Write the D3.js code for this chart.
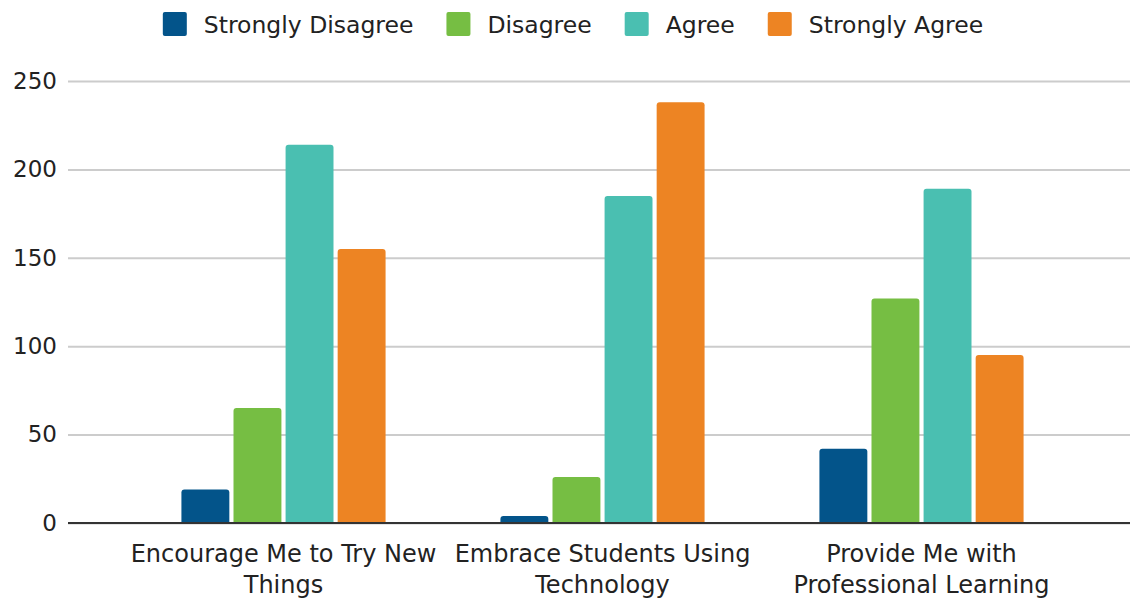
<!DOCTYPE html>
<html>
<head>
<meta charset="utf-8">
<script src="https://cdn.jsdelivr.net/npm/d3@7"></script>
<style>
  body { margin: 0; background: #fff; }
  svg text { font-family: "DejaVu Sans", Verdana, sans-serif; fill: #222; }
</style>
</head>
<body>
<svg id="chart" width="1130" height="598"></svg>
<script>
// data
const categories = ["Encourage Me to Try New Things", "Embrace Students Using Technology", "Provide Me with Professional Learning"];
const seriesNames = ["Strongly Disagree", "Disagree", "Agree", "Strongly Agree"];
const seriesColors = ["#03548a", "#76be43", "#4abfb1", "#ed8423"];
const stronglyDisagree = [19, 4, 42];
const disagree = [65, 26, 127];
const agree = [214, 185, 189];
const stronglyAgree = [155, 238, 95];
const yTicks = [0, 50, 100, 150, 200, 250];

const allSeries = [stronglyDisagree, disagree, agree, stronglyAgree];

const svg = d3.select("#chart");
const gridLeft = 68, gridRight = 1130;
const plotTop = 81, baseline = 523;

const y = d3.scaleLinear().domain([0, 250]).range([baseline, plotTop]);

const x0 = d3.scaleBand()
    .domain(categories)
    .range([124, 1081])
    .paddingInner(0.36)
    .paddingOuter(0.18);

const x1 = d3.scaleBand()
    .domain(seriesNames)
    .range([0, x0.bandwidth()])
    .paddingInner(0.08);

// gridlines + y labels
const yAxis = svg.append("g").attr("transform", "translate(" + gridLeft + ",0)")
    .call(d3.axisLeft(y).tickValues(yTicks).tickSize(-(gridRight - gridLeft)).tickPadding(11));
yAxis.select(".domain").remove();
yAxis.selectAll(".tick line").attr("stroke", "#cccccc").attr("stroke-width", 2);
yAxis.selectAll(".tick text").attr("font-size", 23).attr("fill", "#222")
    .attr("font-family", "DejaVu Sans");

// bars with slightly rounded tops
function topRounded(xp, yp, w, h, r) {
  r = Math.min(r, h / 2, w / 2);
  return "M" + xp + "," + (yp + h) +
    "V" + (yp + r) + "Q" + xp + "," + yp + " " + (xp + r) + "," + yp +
    "H" + (xp + w - r) + "Q" + (xp + w) + "," + yp + " " + (xp + w) + "," + (yp + r) +
    "V" + (yp + h) + "Z";
}

const groups = svg.append("g").selectAll("g")
    .data(categories)
    .enter().append("g")
    .attr("transform", d => "translate(" + x0(d) + ",0)");

groups.selectAll("path")
    .data((d, ci) => seriesNames.map((s, si) => ({ s: s, si: si, v: allSeries[si][ci] })))
    .enter().append("path")
    .attr("fill", d => seriesColors[d.si])
    .attr("d", d => topRounded(x1(d.s), y(d.v), x1.bandwidth(), baseline - y(d.v), 3));

// baseline
svg.append("line")
    .attr("x1", gridLeft).attr("x2", gridRight)
    .attr("y1", baseline).attr("y2", baseline)
    .attr("stroke", "#333").attr("stroke-width", 2);

// category labels, wrapped
const xAxis = svg.append("g").attr("transform", "translate(0," + baseline + ")")
    .call(d3.axisBottom(x0).tickSize(0).tickPadding(0));
xAxis.select(".domain").remove();
xAxis.selectAll(".tick text")
    .attr("font-size", 24)
    .attr("fill", "#222")
    .attr("font-family", "DejaVu Sans")
    .attr("y", 0).attr("dy", null)
    .each(function () { wrap(d3.select(this), 322); });

function wrap(text, width) {
  const words = text.text().split(/\s+/);
  text.text(null);
  let line = [];
  let lineNo = 0;
  let tspan = text.append("tspan").attr("x", 0).attr("y", 39);
  words.forEach(w => {
    line.push(w);
    tspan.text(line.join(" "));
    if (tspan.node().getComputedTextLength() > width && line.length > 1) {
      line.pop();
      tspan.text(line.join(" "));
      line = [w];
      lineNo++;
      tspan = text.append("tspan").attr("x", 0).attr("y", 39 + lineNo * 31).text(w);
    }
  });
}

// legend
const legend = svg.append("g");
let lx = 0;
seriesNames.forEach((s, i) => {
  const item = legend.append("g").attr("transform", "translate(" + lx + ",0)");
  item.append("rect").attr("x", 0).attr("y", 12).attr("width", 24).attr("height", 24)
      .attr("rx", 2).attr("fill", seriesColors[i]);
  const t = item.append("text").attr("x", 41).attr("y", 33)
      .attr("font-size", 23.5).text(s);
  lx += 41 + t.node().getComputedTextLength() + 33;
});
const legendW = lx - 33;
legend.attr("transform", "translate(" + (573 - legendW / 2) + ",0)");
</script>
</body>
</html>
